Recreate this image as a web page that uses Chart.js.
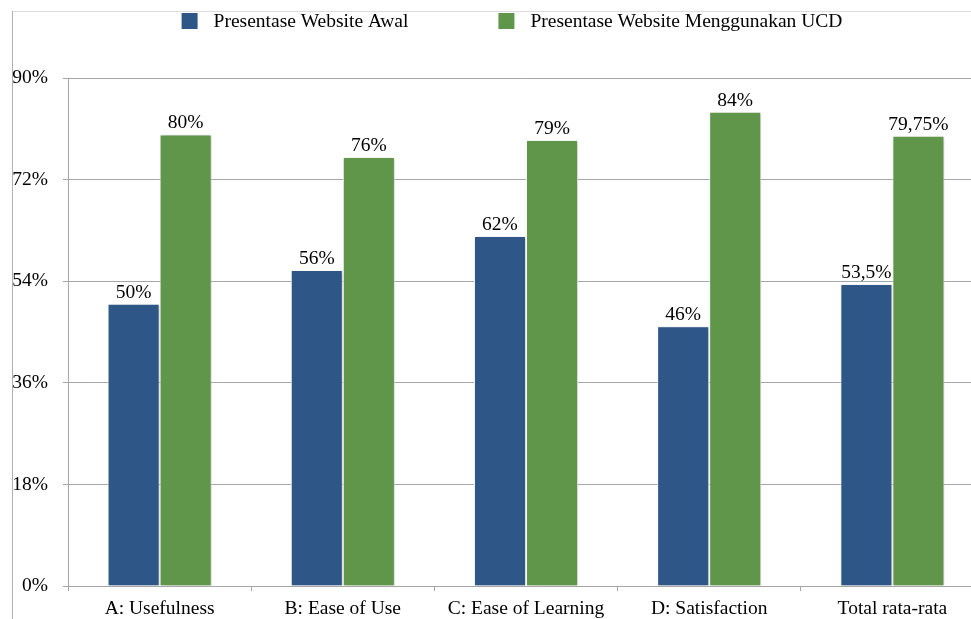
<!DOCTYPE html>
<html>
<head>
<meta charset="utf-8">
<script src="https://cdn.jsdelivr.net/npm/chart.js@4/dist/chart.umd.min.js"></script>
<style>
html,body{margin:0;padding:0;background:#fff;overflow:hidden;}
#wrap{width:971px;height:619px;overflow:hidden;position:relative;}
canvas{display:block;}
</style>
</head>
<body>
<div id="wrap"><canvas id="c" width="985" height="619"></canvas></div>
<script>
const categories = ['A: Usefulness', 'B: Ease of Use', 'C: Ease of Learning', 'D: Satisfaction', 'Total rata-rata'];
const seriesNames = ['Presentase Website Awal', 'Presentase Website Menggunakan UCD'];
const awalValues = [50, 56, 62, 46, 53.5];
const ucdValues = [80, 76, 79, 84, 79.75];
const awalLabels = ['50%', '56%', '62%', '46%', '53,5%'];
const ucdLabels = ['80%', '76%', '79%', '84%', '79,75%'];
const yTicks = [0, 18, 36, 54, 72, 90];

const FONT = '"Liberation Serif", "Times New Roman", serif';
const FS = 19.5;
const colors = ['#2E5787', '#5F964A'];

const framePlugin = {
  id: 'frame',
  beforeDraw(chart) {
    const ctx = chart.ctx;
    ctx.save();
    ctx.lineWidth = 1;
    ctx.strokeStyle = '#dcdcdc';
    ctx.beginPath();
    ctx.moveTo(12, 11.5);
    ctx.lineTo(chart.width, 11.5);
    ctx.stroke();
    ctx.strokeStyle = '#b0b0b0';
    ctx.beginPath();
    ctx.moveTo(12.5, 11);
    ctx.lineTo(12.5, chart.height);
    ctx.stroke();
    ctx.restore();
  }
};

const legendPlugin = {
  id: 'customLegend',
  afterDraw(chart) {
    const ctx = chart.ctx;
    ctx.save();
    ctx.font = FS + 'px ' + FONT;
    const w = seriesNames.map(n => ctx.measureText(n).width);
    const box = 16, gapText = 16, gapItem = 90;
    const total = box + gapText + w[0] + gapItem + box + gapText + w[1];
    let x = 512 - total / 2;
    const cy = 21;
    ctx.textBaseline = 'middle';
    ctx.textAlign = 'left';
    for (let i = 0; i < 2; i++) {
      ctx.fillStyle = colors[i];
      ctx.fillRect(x, cy - 8, box, box);
      ctx.fillStyle = '#000';
      ctx.fillText(seriesNames[i], x + box + gapText, cy + 1);
      x += box + gapText + w[i] + gapItem;
    }
    ctx.restore();
  }
};

const shadowPlugin = {
  id: 'barShadow',
  beforeDatasetsDraw(chart) {
    const ctx = chart.ctx;
    ctx.save();
    ctx.shadowColor = 'rgba(0,0,0,0.28)';
    ctx.shadowBlur = 3;
    ctx.shadowOffsetX = 1;
    ctx.shadowOffsetY = 1;
  },
  afterDatasetsDraw(chart) {
    chart.ctx.restore();
  }
};

const labelPlugin = {
  id: 'valueLabels',
  afterDatasetsDraw(chart) {
    const ctx = chart.ctx;
    ctx.save();
    ctx.font = FS + 'px ' + FONT;
    ctx.fillStyle = '#000';
    ctx.textAlign = 'center';
    ctx.textBaseline = 'alphabetic';
    const lbls = [awalLabels, ucdLabels];
    chart.data.datasets.forEach((ds, di) => {
      chart.getDatasetMeta(di).data.forEach((bar, i) => {
        ctx.fillText(lbls[di][i], bar.x, bar.y - 6);
      });
    });
    ctx.restore();
  }
};

new Chart(document.getElementById('c'), {
  type: 'bar',
  data: {
    labels: categories,
    datasets: [
      { label: seriesNames[0], data: awalValues, backgroundColor: colors[0], borderColor: '#ffffff', borderWidth: 1 },
      { label: seriesNames[1], data: ucdValues, backgroundColor: colors[1], borderColor: '#ffffff', borderWidth: 1 }
    ]
  },
  options: {
    responsive: false,
    animation: false,
    devicePixelRatio: 1,
    layout: { padding: { top: 78, right: 1, left: 0, bottom: 0 } },
    plugins: { legend: { display: false }, tooltip: { enabled: false } },
    datasets: { bar: { barPercentage: 1, categoryPercentage: 0.568 } },
    scales: {
      x: {
        afterFit(s) { s.height = 33; },
        grid: { display: true, drawOnChartArea: false, drawTicks: true, tickLength: 5, color: '#a6a6a6', offset: true },
        border: { display: true, color: '#a6a6a6' },
        ticks: { font: { family: FONT, size: FS }, color: '#000', padding: 6, maxRotation: 0, autoSkip: false }
      },
      y: {
        min: 0, max: 90,
        afterFit(s) { s.width = 68; },
        afterBuildTicks(s) { s.ticks = yTicks.map(v => ({ value: v })); },
        grid: { color: '#a6a6a6', tickLength: 5, drawTicks: true },
        border: { display: true, color: '#a6a6a6' },
        ticks: { font: { family: FONT, size: FS }, color: '#000', padding: 15, callback: v => v + '%' }
      }
    }
  },
  plugins: [framePlugin, shadowPlugin, labelPlugin, legendPlugin]
});
</script>
</body>
</html>
